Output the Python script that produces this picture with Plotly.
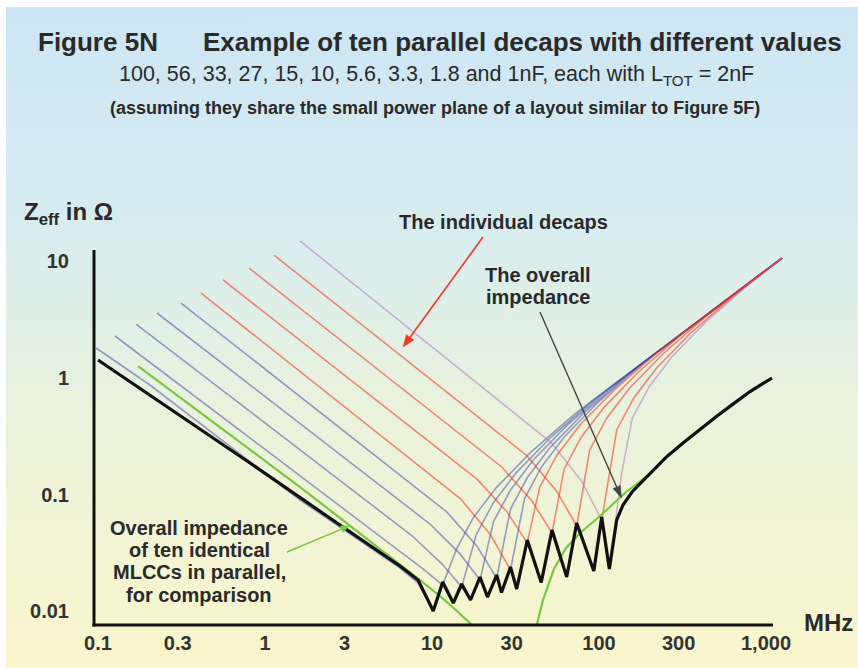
import base64
import math
import plotly.graph_objects as go

# ---------------- data ----------------
decap_names = ["100 nF", "56 nF", "33 nF", "27 nF", "15 nF", "10 nF", "5.6 nF", "3.3 nF", "1.8 nF", "1 nF"]

f_d0 = [0.0973, 0.2046, 1.621, 2.70, 6.43, 8.25, 10.18, 11.59, 13.98, 17.67, 24.27, 38.78, 70.19, 1247]
z_d0 = [1.807, 0.871, 0.0901, 0.05499, 0.02354, 0.01751, 0.01008, 0.01683, 0.03399, 0.06353, 0.1150, 0.2291, 0.4810, 10.67]
f_d1 = [0.1264, 5.818, 8.796, 11.59, 13.41, 15.06, 18.42, 23.29, 31.98, 51.10, 92.46, 1247]
z_d1 = [2.291, 0.03699, 0.02327, 0.01683, 0.01180, 0.01618, 0.04560, 0.08522, 0.1547, 0.3073, 0.6453, 10.67]
f_d2 = [0.1689, 7.557, 11.43, 15.06, 17.01, 19.39, 23.35, 29.52, 40.53, 64.78, 117.2, 1247]
z_d2 = [2.902, 0.04470, 0.02568, 0.01618, 0.01252, 0.01858, 0.05882, 0.1097, 0.1991, 0.3963, 0.8309, 10.67]
f_d3 = [0.2256, 9.727, 14.72, 19.39, 21.49, 24.40, 29.52, 37.32, 51.24, 81.88, 148.2, 1247]
z_d3 = [3.606, 0.05608, 0.03110, 0.01858, 0.01328, 0.01932, 0.07542, 0.1410, 0.2558, 0.5083, 1.067, 10.67]
f_d4 = [0.3141, 12.25, 18.52, 24.40, 26.08, 29.52, 35.81, 45.27, 62.15, 99.31, 179.7, 1247]
z_d4 = [4.392, 0.07123, 0.03648, 0.01932, 0.01452, 0.02264, 0.09278, 0.1734, 0.3141, 0.6252, 1.313, 10.67]
f_d5 = [0.4138, 14.82, 22.40, 29.52, 32.15, 37.22, 44.15, 55.81, 76.64, 122.5, 221.6, 1247]
z_d5 = [5.350, 0.09224, 0.04533, 0.02264, 0.01556, 0.03855, 0.1159, 0.2168, 0.3932, 0.7813, 1.641, 10.67]
f_d6 = [0.5605, 18.67, 28.25, 37.22, 45.08, 52.31, 61.89, 78.23, 107.4, 171.7, 310.6, 1247]
z_d6 = [6.917, 0.1353, 0.07067, 0.03855, 0.01769, 0.04696, 0.1664, 0.3110, 0.5630, 1.121, 2.354, 10.67]
f_d7 = [0.8019, 26.26, 39.70, 52.31, 64.07, 73.54, 87.97, 111.2, 152.7, 244.0, 441.4, 1247]
z_d7 = [8.761, 0.1720, 0.08831, 0.04696, 0.01971, 0.05391, 0.2420, 0.4524, 0.8208, 1.631, 3.424, 10.67]
f_d8 = [1.132, 36.91, 55.81, 73.54, 93.09, 103.8, 127.8, 161.6, 221.9, 354.5, 641.6, 1247]
z_d8 = [11.32, 0.2168, 0.1072, 0.05391, 0.02220, 0.06070, 0.3606, 0.6739, 1.223, 2.430, 5.104, 10.67]
f_d9 = [1.621, 52.10, 78.77, 103.8, 115.3, 136.7, 158.3, 200.1, 274.8, 439.0, 794.3, 1247]
z_d9 = [14.93, 0.2773, 0.1302, 0.06070, 0.02309, 0.1534, 0.4533, 0.8472, 1.534, 3.055, 6.416, 10.67]

f_all = [0.1, 0.2046, 0.813, 2.70, 6.43, 8.25, 10.18, 11.59, 13.41, 15.06, 17.01, 19.39, 21.49,
         24.40, 26.08, 29.52, 32.15, 37.22, 45.08, 52.31, 64.07, 73.54, 93.09, 103.8, 115.3,
         127.6, 139.2, 157.6, 202.1, 250.0, 318.4, 400.0, 506.9, 640.0, 802.0, 1086]
z_all = [1.426, 0.7151, 0.1869, 0.05721, 0.02449, 0.01858, 0.01008, 0.01786, 0.01180, 0.01717,
         0.01252, 0.01971, 0.01328, 0.02051, 0.01452, 0.02401, 0.01556, 0.04090, 0.01769, 0.04983,
         0.01971, 0.05721, 0.02220, 0.06440, 0.02309, 0.06070, 0.08164, 0.1055, 0.1505, 0.2070,
         0.2773, 0.3620, 0.4700, 0.6030, 0.7650, 1.0]

f_cmp = [0.1736, 1.621, 8.477, 11.17, 14.31, 17.36, 42.36, 46.21, 53.77, 63.45, 76.93, 101.4,
         145.1, 202.1, 250.0, 318.4, 400.0, 506.9, 640.0, 802.0, 1086]
z_cmp = [1.267, 0.1164, 0.01858, 0.01355, 0.00988, 0.00765, 0.00765, 0.01252, 0.02309, 0.03494,
         0.04696, 0.06569, 0.1055, 0.1505, 0.2070, 0.2773, 0.3620, 0.4700, 0.6030, 0.7650, 1.0]

x_tick_vals = [0.1, 0.3, 1, 3, 10, 30, 100, 300, 1000]
x_tick_text = ["0.1", "0.3", "1", "3", "10", "30", "100", "300", "1,000"]
y_tick_vals = [0.01, 0.1, 1, 10]
y_tick_text = ["0.01", "0.1", "1", "10"]

decap_f = [f_d0, f_d1, f_d2, f_d3, f_d4, f_d5, f_d6, f_d7, f_d8, f_d9]
decap_z = [z_d0, z_d1, z_d2, z_d3, z_d4, z_d5, z_d6, z_d7, z_d8, z_d9]

# ---------------- styling ----------------
W, H = 858, 668
ML, MR, MT, MB = 94, 68, 235, 43
PW, PH = W - ML - MR, H - MT - MB
FONT = "Liberation Sans, Arial, Helvetica, sans-serif"
TXT = "#2a2a2a"

BLUE = "rgba(55,70,170,0.50)"
RED = "rgba(240,50,25,0.55)"
LAV = "rgba(165,95,190,0.45)"
decap_colors = [BLUE] * 5 + [RED] * 4 + [LAV]


def px(xp):
    return (xp - ML) / PW


def py(yp):
    return (MT + PH - yp) / PH


fig = go.Figure()

for name, fx, zx, col in zip(decap_names, decap_f, decap_z, decap_colors):
    fig.add_trace(go.Scatter(x=fx, y=zx, mode="lines", name=name,
                             line=dict(color=col, width=1.6), hoverinfo="skip"))

fig.add_trace(go.Scatter(x=f_cmp, y=z_cmp, mode="lines", name="ten identical MLCCs",
                         line=dict(color="#78c840", width=2.2), hoverinfo="skip"))
fig.add_trace(go.Scatter(x=f_all, y=z_all, mode="lines", name="overall impedance",
                         line=dict(color="#111111", width=3.2), hoverinfo="skip"))

# background gradient
svg = ("<svg xmlns='http://www.w3.org/2000/svg' width='852' height='661' preserveAspectRatio='none'>"
       "<defs><linearGradient id='g' x1='0' y1='0' x2='0' y2='1'>"
       "<stop offset='0' stop-color='#cde6f5'/>"
       "<stop offset='0.35' stop-color='#d9edef'/>"
       "<stop offset='0.6' stop-color='#e9f2dd'/>"
       "<stop offset='1' stop-color='#faf6cc'/>"
       "</linearGradient></defs><rect width='100%' height='100%' fill='url(#g)'/></svg>")
src = "data:image/svg+xml;base64," + base64.b64encode(svg.encode()).decode()
fig.add_layout_image(dict(source=src, xref="paper", yref="paper", x=px(6), y=py(7),
                          sizex=(W - 6) / PW, sizey=(H - 7) / PH, xanchor="left", yanchor="top",
                          sizing="stretch", layer="below"))

# axis lines
fig.add_shape(type="line", xref="paper", yref="paper", x0=0, x1=0, y0=py(626.5), y1=py(250),
              line=dict(color="#111", width=3))
fig.add_shape(type="line", xref="paper", yref="paper", x0=px(92.5), x1=px(773), y0=0, y1=0,
              line=dict(color="#111", width=3))


def note(text, xp, yp, size, bold=True, xanchor="left", color=TXT):
    fig.add_annotation(text=text, xref="paper", yref="paper", x=px(xp), y=py(yp),
                       xanchor=xanchor, yanchor="middle", showarrow=False,
                       font=dict(family=FONT, size=size, color=color,
                                 weight="bold" if bold else "normal"))


note("Figure 5N", 36, 42, 26)
note("Example of ten parallel decaps with different values", 201, 42, 26)
note("100, 56, 33, 27, 15, 10, 5.6, 3.3, 1.8 and 1nF, each with L<sub>TOT</sub> = 2nF", 436, 76, 21.5,
     bold=False, xanchor="center")
note("(assuming they share the small power plane of a layout similar to Figure 5F)", 435, 108, 18,
     xanchor="center")
note("Z<sub>eff</sub> in Ω", 22, 213, 24)
note("MHz", 802, 622, 24)
note("The individual decaps", 397, 222, 20)
note("The overall", 483, 275, 20)
note("impedance", 484, 297, 20)
for t, yy in zip(["Overall impedance", "of ten identical", "MLCCs in parallel,", "for comparison"],
                 [528, 550, 572, 595]):
    note(t, 199, yy, 20, xanchor="center")


def arrow(tail, head, color, width, head_len, head_w):
    dx, dy = head[0] - tail[0], head[1] - tail[1]
    d = math.hypot(dx, dy)
    ux, uy = dx / d, dy / d
    nx, ny = -uy, ux
    bx, by = head[0] - head_len * ux, head[1] - head_len * uy
    fig.add_shape(type="line", xref="paper", yref="paper",
                  x0=px(tail[0]), y0=py(tail[1]), x1=px(bx), y1=py(by),
                  line=dict(color=color, width=width))
    c1 = (bx + nx * head_w / 2, by + ny * head_w / 2)
    c2 = (bx - nx * head_w / 2, by - ny * head_w / 2)
    path = "M {:.5f} {:.5f} L {:.5f} {:.5f} L {:.5f} {:.5f} Z".format(
        px(head[0]), py(head[1]), px(c1[0]), py(c1[1]), px(c2[0]), py(c2[1]))
    fig.add_shape(type="path", xref="paper", yref="paper", path=path,
                  fillcolor=color, line=dict(color=color, width=0.5))


arrow((483, 237), (403, 347), "#f03a28", 1.6, 12, 9)
arrow((540, 312), (621.5, 498), "#444444", 1.4, 12, 8)
arrow((287, 552), (349, 526), "#78c840", 1.5, 8, 7)

fig.update_layout(
    width=W, height=H, margin=dict(l=ML, r=MR, t=MT, b=MB, pad=0),
    paper_bgcolor="white", plot_bgcolor="rgba(0,0,0,0)", showlegend=False,
    font=dict(family=FONT, color=TXT),
    xaxis=dict(type="log", range=[-1.02395, 3.14371], tickvals=x_tick_vals, ticktext=x_tick_text,
               showgrid=False, zeroline=False, showline=False, ticks="",
               tickfont=dict(family=FONT, size=20, color="#333", weight="bold"),
               ticklabelstandoff=4, automargin=False),
    yaxis=dict(type="log", range=[-2.1165, 1.2254], tickvals=y_tick_vals, ticktext=y_tick_text,
               showgrid=False, zeroline=False, showline=False, ticks="",
               tickfont=dict(family=FONT, size=20, color="#333", weight="bold"),
               ticklabelstandoff=24, automargin=False),
)

fig.write_html("out.html")
